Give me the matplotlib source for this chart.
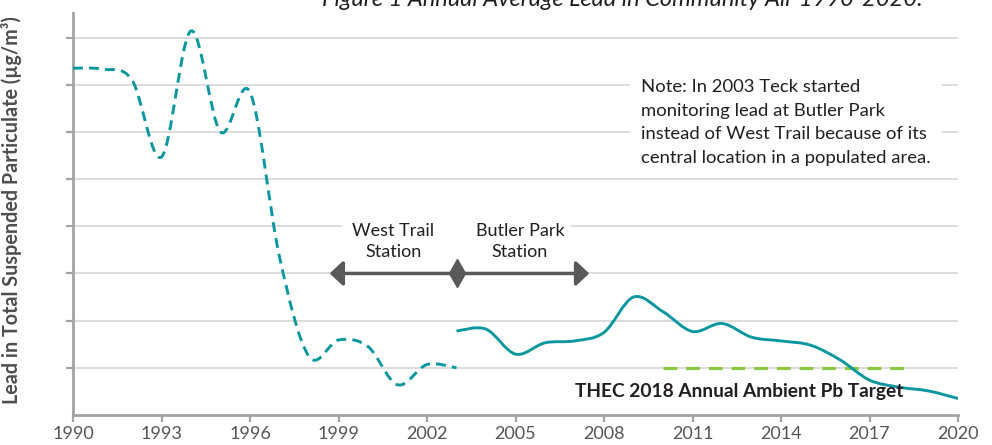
import numpy as np
import matplotlib
matplotlib.use('Agg')
import matplotlib.pyplot as plt
from matplotlib.path import Path
from matplotlib.patches import PathPatch

# ========= data ============================================
west_years = [1990, 1991, 1992, 1993, 1994, 1995, 1996, 1997, 1998, 1999, 2000, 2001, 2002, 2003]
west_lead = [7.35, 7.33, 7.1, 5.47, 8.14, 6.0, 6.84, 3.35, 1.24, 1.59, 1.45, 0.64, 1.07, 1.0]

butler_years = [2003, 2004, 2005, 2006, 2007, 2008, 2009, 2010, 2011, 2012, 2013, 2014, 2015, 2016, 2017, 2018, 2019, 2020]
butler_lead = [1.78, 1.82, 1.29, 1.53, 1.57, 1.75, 2.5, 2.19, 1.77, 1.94, 1.65, 1.57, 1.48, 1.17, 0.74, 0.59, 0.51, 0.35]

target_years = [2010, 2018.3]
target_value = [1.0, 1.0]

station_arrow_years = [1998.7, 2003, 2007.5]
station_arrow_level = 3.0

xtick_years = list(range(1990, 2021, 3))
ygrid = list(range(0, 9))

TEAL = '#0a97a0'
GREEN = '#8dc63f'
DARK = '#58595b'
TEXT = '#231f20'
GRID = '#d9d9d9'
AXIS = '#a3a3a3'

plt.rcParams['font.family'] = ['Lato', 'DejaVu Sans']


def smooth_path(xs, ys):
    # Catmull-Rom spline turned into cubic bezier segments (like a smoothed Excel line)
    pts = np.column_stack([xs, ys]).astype(float)
    ext = np.vstack([pts[0], pts, pts[-1]])
    verts = [pts[0]]
    codes = [Path.MOVETO]
    for i in range(1, len(ext) - 2):
        p0, p1, p2, p3 = ext[i - 1], ext[i], ext[i + 1], ext[i + 2]
        c1 = p1 + (p2 - p0) / 6.0
        c2 = p2 - (p3 - p1) / 6.0
        verts += [c1, c2, p2]
        codes += [Path.CURVE4] * 3
    return Path(verts, codes)


def main():
    fig = plt.figure(figsize=(9.92, 4.45), dpi=100)
    ax = fig.add_axes([73 / 992, 30 / 445, 885 / 992, 402 / 445])
    ax.set_xlim(1990, 2020)
    ax.set_ylim(0, 8.52)

    # grid
    for g in ygrid[1:]:
        ax.axhline(g, color=GRID, lw=1.3, zorder=0)

    # West Trail (dashed) and Butler Park (solid)
    ax.add_patch(PathPatch(smooth_path(west_years, west_lead), fill=False, edgecolor=TEAL,
                           lw=2.1, linestyle=(0, (3.4, 2.1)), capstyle='butt', zorder=4))
    ax.add_patch(PathPatch(smooth_path(butler_years, butler_lead), fill=False, edgecolor=TEAL,
                           lw=2.1, zorder=4))

    # target line
    ax.plot(target_years, target_value, color=GREEN, lw=2.3, dashes=(4.3, 2.8), zorder=3)
    ax.text(2012.6, 0.5, 'THEC 2018 Annual Ambient Pb Target', fontsize=13.8, fontweight='bold',
            color=TEXT, ha='center', va='center', zorder=5)

    # station arrow
    y = station_arrow_level
    style = '-|>,head_length=8,head_width=7.5'
    ax.annotate('', xy=(station_arrow_years[0], y), xytext=(station_arrow_years[1], y),
                arrowprops=dict(arrowstyle=style, mutation_scale=1,
                                color=DARK, lw=2.5, shrinkA=0, shrinkB=0), zorder=6)
    ax.annotate('', xy=(station_arrow_years[2], y), xytext=(station_arrow_years[1], y),
                arrowprops=dict(arrowstyle=style, mutation_scale=1,
                                color=DARK, lw=2.5, shrinkA=0, shrinkB=0), zorder=6)
    ax.plot([station_arrow_years[1]], [y], marker='d', ms=14, color=DARK, zorder=7)

    box = dict(boxstyle='square,pad=0.25', fc='white', ec='none')
    ax.text(2000.85, 3.68, 'West Trail\nStation', fontsize=13, color=TEXT, ha='center', va='center',
            linespacing=1.4, bbox=box, zorder=5)
    ax.text(2005.15, 3.68, 'Butler Park\nStation', fontsize=13, color=TEXT, ha='center', va='center',
            linespacing=1.4, bbox=box, zorder=5)
    # mask grid between labels
    ax.text(2003.0, 3.95, ' ' * 50, fontsize=12.5, ha='center', va='center',
            bbox=dict(boxstyle='square,pad=0.1', fc='white', ec='none'), zorder=2)

    ax.text(2009.25, 7.12, 'Note: In 2003 Teck started\nmonitoring lead at Butler Park\n'
            'instead of West Trail because of its\ncentral location in a populated area.',
            fontsize=13.3, color=TEXT, ha='left', va='top', linespacing=1.58,
            bbox=dict(boxstyle='square,pad=0.6', fc='white', ec='none'), zorder=5)

    # axes styling
    for s in ['top', 'right']:
        ax.spines[s].set_visible(False)
    for s in ['left', 'bottom']:
        ax.spines[s].set_color(AXIS)
        ax.spines[s].set_linewidth(2.0)
    ax.set_xticks(xtick_years)
    ax.set_xticklabels([str(v) for v in xtick_years], fontsize=13, color='#555555')
    ax.set_yticks(ygrid[1:])
    ax.set_yticklabels([])
    ax.tick_params(axis='both', length=5, width=1.6, color=AXIS, direction='out', pad=3)
    ax.set_ylabel('Lead in Total Suspended Particulate (µg/m³)', fontsize=14.2, fontweight='bold',
                  color='#4d4d4f')
    ax.yaxis.set_label_coords(-0.058, 0.51)

    fig.text(622 / 992, 1 - 6 / 445, 'Figure 1 Annual Average Lead in Community Air 1990-2020.',
             fontsize=17, style='italic', color=TEXT, ha='center', va='baseline')

    fig.savefig('out.png', dpi=100)


if __name__ == "__main__":
    main()
